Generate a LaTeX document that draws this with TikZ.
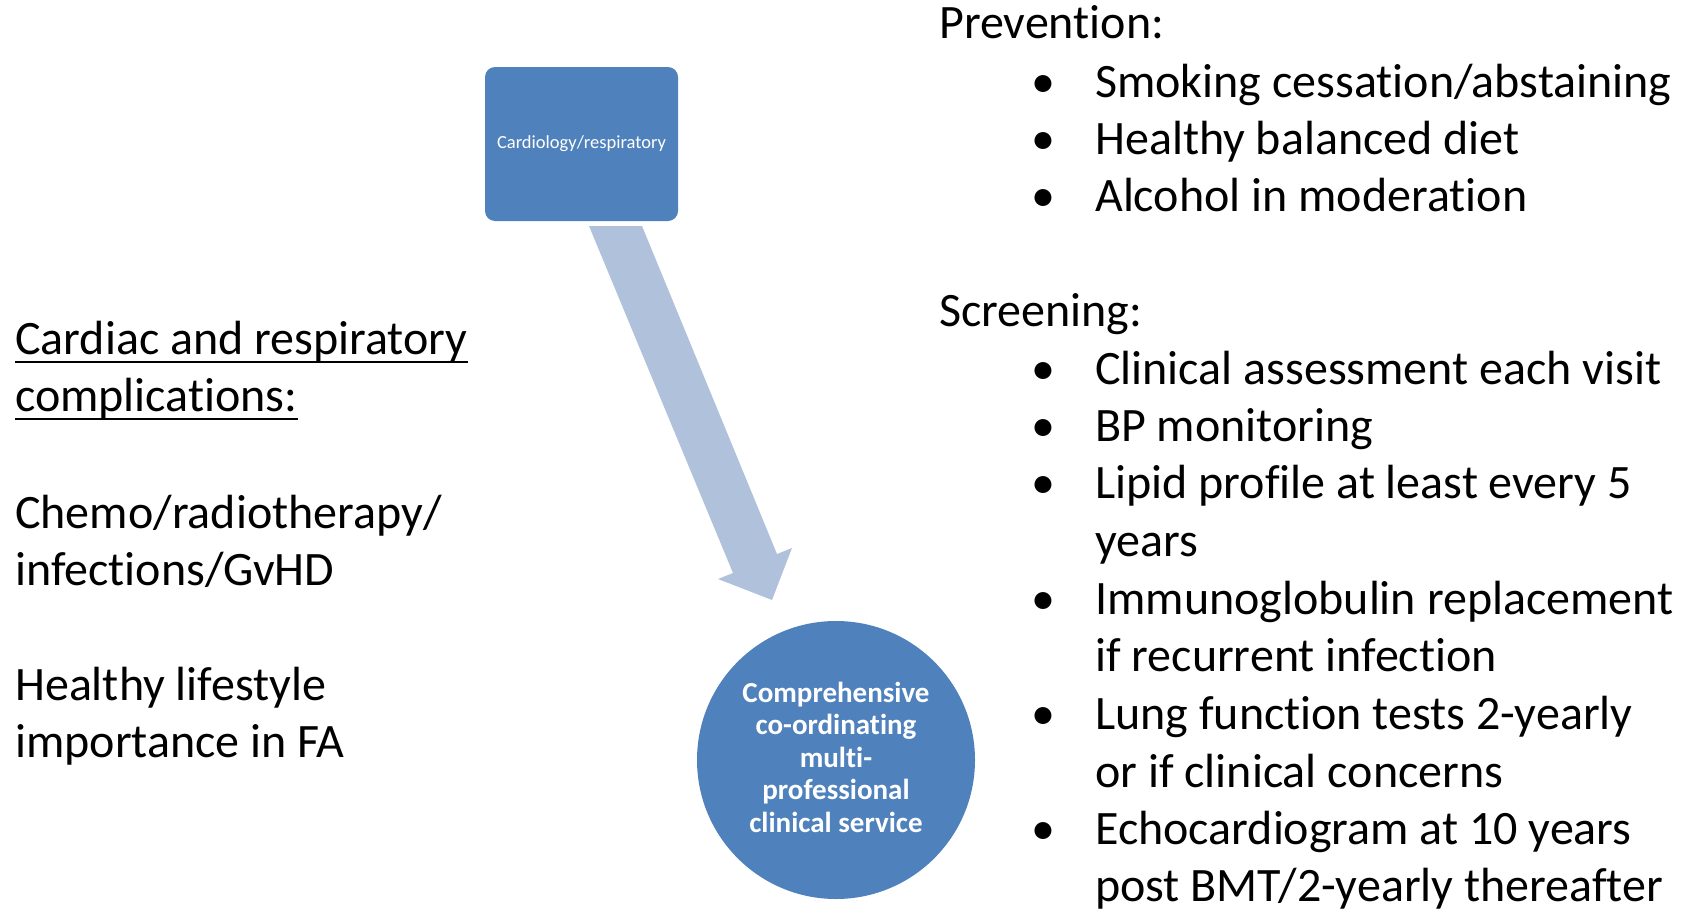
\documentclass[tikz,border=0pt]{standalone}
\usepackage{fontspec}
\setmainfont{Carlito}[Ligatures=NoCommon]
\definecolor{nodeblue}{HTML}{4F81BD}
\definecolor{arrowblue}{HTML}{B0C1DC}

\begin{document}
\begin{tikzpicture}[x=1pt,y=-1pt,
  body/.style={anchor=base west, inner sep=0pt, text=black,
    font=\fontsize{48}{57}\selectfont},
  dot/.style={anchor=base, inner sep=0pt, text=black,
    font=\fontsize{48}{57}\selectfont},
  roundbox/.style={fill=nodeblue, draw=none, rounded corners=10pt,
    minimum width=193pt, minimum height=154pt, text=white,
    font=\fontsize{18.5}{22}\selectfont},
  hub/.style={circle, fill=nodeblue, draw=none, minimum size=278pt, inner sep=0pt},
  hubtext/.style={inner sep=0pt, align=center, text=white,
    font=\bfseries\fontsize{29}{32.5}\selectfont},
  underrule/.style={line width=2pt, black}
]
\useasboundingbox (0,0) rectangle (1692,910);

% Service nodes
\node[roundbox] (cardio) at (581.5,144) {Cardiology/respiratory};
\node[hub] (service) at (836,760) {};
\node[hubtext] (servicetext) at ([yshift=3pt]service.center)
  {Comprehensive\\co-ordinating\\multi-\\professional\\clinical service};

% Block arrow from the box down to the service circle
\coordinate (a1) at (589,226);
\coordinate (a2) at (642,226);
\coordinate (a3) at (777,554);
\coordinate (a4) at (792,548);
\coordinate (a5) at (772,600);
\coordinate (a6) at (718,579);
\coordinate (a7) at (733,573);
\fill[arrowblue] (a1) -- (a2) -- (a3) -- (a4) -- (a5) -- (a6) -- (a7) -- cycle;

% Left column
\node[body] (l1) at (15,354) {Cardiac and respiratory};
\node[body] (l2) at (15,411) {complications:};
\draw[underrule] ([yshift=-8pt]l1.base west) -- ([yshift=-8pt]l1.base east);
\draw[underrule] ([yshift=-8pt]l2.base west) -- ([yshift=-8pt]l2.base east);
\node[body] (l3) at (15,528) {Chemo/radiotherapy/};
\node[body] (l4) at (15,585) {infections/GvHD};
\node[body] (l5) at (15,700) {Healthy lifestyle};
\node[body] (l6) at (15,757) {importance in FA};

% Right column: prevention
\node[body] (prev) at (939,38) {Prevention:};
\node[dot] (pb1) at (1043,97) {•};
\node[body] (p1) at (1095,97) {Smoking cessation/abstaining};
\node[dot] (pb2) at (1043,154) {•};
\node[body] (p2) at (1095,154) {Healthy balanced diet};
\node[dot] (pb3) at (1043,211) {•};
\node[body] (p3) at (1095,211) {Alcohol in moderation};

% Right column: screening
\node[body] (scr) at (939,326) {Screening:};
\node[dot] (sb1) at (1043,384) {•};
\node[body] (s1) at (1095,384) {Clinical assessment each visit};
\node[dot] (sb2) at (1043,441) {•};
\node[body] (s2) at (1095,441) {BP monitoring};
\node[dot] (sb3) at (1043,498) {•};
\node[body] (s3a) at (1095,498) {Lipid profile at least every 5};
\node[body] (s3b) at (1095,556) {years};
\node[dot] (sb4) at (1043,614) {•};
\node[body] (s4a) at (1095,614) {Immunoglobulin replacement};
\node[body] (s4b) at (1095,671) {if recurrent infection};
\node[dot] (sb5) at (1043,729) {•};
\node[body] (s5a) at (1095,729) {Lung function tests 2-yearly};
\node[body] (s5b) at (1095,787) {or if clinical concerns};
\node[dot] (sb6) at (1043,844) {•};
\node[body] (s6a) at (1095,844) {Echocardiogram at 10 years};
\node[body] (s6b) at (1095,901) {post BMT/2-yearly thereafter};
\end{tikzpicture}
\end{document}
